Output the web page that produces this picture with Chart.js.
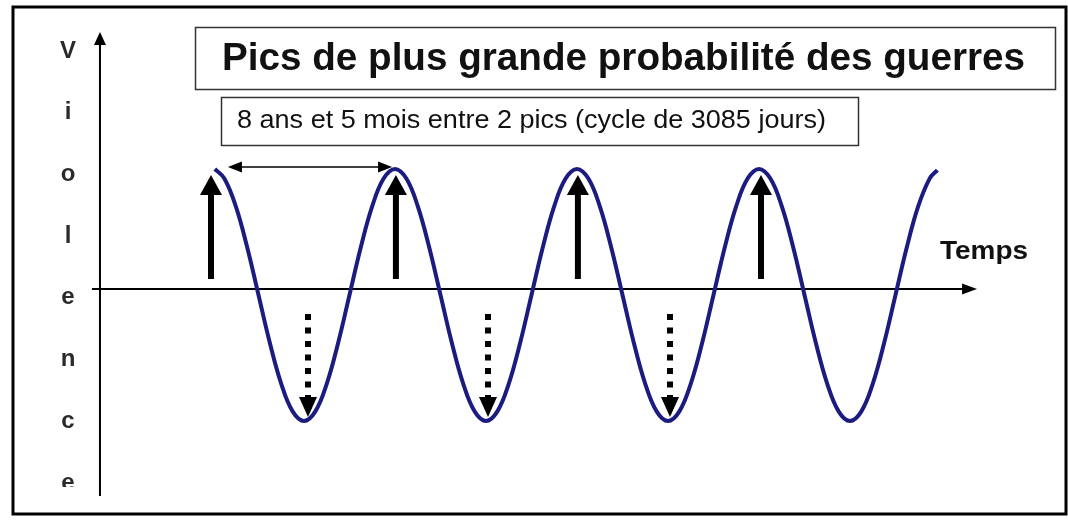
<!DOCTYPE html>
<html>
<head>
<meta charset="utf-8">
<title>Pics de plus grande probabilité des guerres</title>
<script src="https://cdn.jsdelivr.net/npm/chart.js@4.4.1/dist/chart.umd.min.js"></script>
<style>
  body { margin: 0; background: #fff; }
  #wrap { width: 1068px; height: 520px; }
</style>
</head>
<body>
<div id="wrap"><canvas id="chart" width="1068" height="520"></canvas></div>
<script>
// time in cycles (1 cycle = 3085 days), 0 = first peak
// violence: 0 = time axis, 1 = peak height
const waveTime = [0.01, 0.0625, 0.125, 0.1875, 0.25, 0.3125, 0.375, 0.4375,
                  0.5, 0.5625, 0.625, 0.6875, 0.75, 0.8125, 0.875, 0.9375,
                  1, 1.0625, 1.125, 1.1875, 1.25, 1.3125, 1.375, 1.4375,
                  1.5, 1.5625, 1.625, 1.6875, 1.75, 1.8125, 1.875, 1.9375,
                  2, 2.0625, 2.125, 2.1875, 2.25, 2.3125, 2.375, 2.4375,
                  2.5, 2.5625, 2.625, 2.6875, 2.75, 2.8125, 2.875, 2.9375,
                  3, 3.0625, 3.125, 3.1875, 3.25, 3.3125, 3.375, 3.4375,
                  3.5, 3.5625, 3.625, 3.6875, 3.75, 3.8125, 3.875, 3.9375, 3.98];
const waveViolence = [1, 0.92, 0.69, 0.35, -0.05, -0.45, -0.79, -1.02,
                      -1.1, -1.02, -0.79, -0.45, -0.05, 0.35, 0.69, 0.92,
                      1, 0.92, 0.69, 0.35, -0.05, -0.45, -0.79, -1.02,
                      -1.1, -1.02, -0.79, -0.45, -0.05, 0.35, 0.69, 0.92,
                      1, 0.92, 0.69, 0.35, -0.05, -0.45, -0.79, -1.02,
                      -1.1, -1.02, -0.79, -0.45, -0.05, 0.35, 0.69, 0.92,
                      1, 0.92, 0.69, 0.35, -0.05, -0.45, -0.79, -1.02,
                      -1.1, -1.02, -0.79, -0.45, -0.05, 0.35, 0.69, 0.92, 0.99];

// solid arrows up at the peaks
const peakArrowTime = [-0.011, 1.005, 2.005, 3.011];
const peakArrowFrom = 0.083;
const peakArrowTo = 0.95;
// dotted arrows down at the troughs
const troughArrowTime = [0.522, 1.511, 2.511];
const troughArrowFrom = -0.208;
const troughArrowTo = -1.067;
// double arrow between two peaks
const spanFrom = 0.082, spanTo = 0.984, spanLevel = 1.017;
// axes
const yAxisTime = -0.621, yAxisFrom = -1.725, yAxisTo = 2.142;
const xAxisFrom = -0.665, xAxisTo = 4.198;

const title = "Pics de plus grande probabilité des guerres";
const subtitle = "8 ans et 5 mois entre 2 pics (cycle de 3085 jours)";
const xLabel = "Temps";
const yLetters = ["V", "i", "o", "l", "e", "n", "c", "e"];

function arrow(ctx, x1, y1, x2, y2, w, headLen, headW, dash) {
    const ang = Math.atan2(y2 - y1, x2 - x1);
    const len = Math.hypot(x2 - x1, y2 - y1);
    ctx.save();
    ctx.translate(x1, y1);
    ctx.rotate(ang);
    ctx.strokeStyle = "#000";
    ctx.fillStyle = "#000";
    ctx.lineWidth = w;
    ctx.lineCap = "butt";
    if (dash) ctx.setLineDash(dash);
    ctx.beginPath();
    ctx.moveTo(0, 0);
    ctx.lineTo(len - headLen + 1, 0);
    ctx.stroke();
    ctx.setLineDash([]);
    ctx.beginPath();
    ctx.moveTo(len, 0);
    ctx.lineTo(len - headLen, -headW / 2);
    ctx.lineTo(len - headLen, headW / 2);
    ctx.closePath();
    ctx.fill();
    ctx.restore();
}

// draws text squeezed/stretched to a given width
function fitText(ctx, text, font, left, baseline, width) {
    ctx.save();
    ctx.font = font;
    const w = ctx.measureText(text).width;
    ctx.translate(left, baseline);
    ctx.scale(width / w, 1);
    ctx.textBaseline = "alphabetic";
    ctx.textAlign = "left";
    ctx.fillText(text, 0, 0);
    ctx.restore();
}

const decor = {
    id: "decor",
    beforeDatasetsDraw(chart) {
        const ctx = chart.ctx;
        const sx = chart.scales.x, sy = chart.scales.y;
        const X = v => sx.getPixelForValue(v), Y = v => sy.getPixelForValue(v);

        // axes
        arrow(ctx, X(yAxisTime), Y(yAxisFrom), X(yAxisTime), Y(yAxisTo), 2, 13, 12);
        arrow(ctx, X(xAxisFrom), Y(0), X(xAxisTo), Y(0), 2, 15, 11);
    },
    afterDatasetsDraw(chart) {
        const ctx = chart.ctx;
        const sx = chart.scales.x, sy = chart.scales.y;
        const X = v => sx.getPixelForValue(v), Y = v => sy.getPixelForValue(v);

        peakArrowTime.forEach(t => {
            arrow(ctx, X(t), Y(peakArrowFrom), X(t), Y(peakArrowTo), 6, 20, 22);
        });
        troughArrowTime.forEach(t => {
            arrow(ctx, X(t), Y(troughArrowFrom), X(t), Y(troughArrowTo), 6, 20, 18, [6, 7.5]);
        });
        // double arrow
        const mid = (spanFrom + spanTo) / 2;
        arrow(ctx, X(mid), Y(spanLevel), X(spanTo), Y(spanLevel), 1.5, 14, 11);
        arrow(ctx, X(mid), Y(spanLevel), X(spanFrom), Y(spanLevel), 1.5, 14, 11);

        // title boxes
        ctx.save();
        ctx.strokeStyle = "#333";
        ctx.lineWidth = 1.5;
        ctx.strokeRect(195.5, 27.5, 860, 62);
        ctx.strokeRect(221.5, 97.5, 637, 48);
        ctx.fillStyle = "#111";
        fitText(ctx, title, "bold 38px 'Liberation Sans', Arial, sans-serif", 222, 70, 803);
        fitText(ctx, subtitle, "26px 'Liberation Sans Narrow', 'Liberation Sans', Arial, sans-serif", 237, 128, 589);
        fitText(ctx, xLabel, "bold 26px 'Liberation Sans', Arial, sans-serif", 940, 259, 88);

        // vertical axis letters
        ctx.beginPath();
        ctx.rect(0, 0, 200, 487);
        ctx.clip();
        ctx.fillStyle = "#2a2a2a";
        ctx.font = "bold 24px 'Liberation Sans', Arial, sans-serif";
        ctx.textAlign = "center";
        ctx.textBaseline = "middle";
        yLetters.forEach((c, i) => ctx.fillText(c, 68, 51 + i * 61.7));
        ctx.restore();

        // outer frame
        ctx.save();
        ctx.strokeStyle = "#000";
        ctx.lineWidth = 3;
        ctx.strokeRect(13, 7, 1053, 507);
        ctx.restore();
    }
};

const ctx = document.getElementById("chart").getContext("2d");
new Chart(ctx, {
    type: "line",
    data: {
        datasets: [{
            label: "Violence",
            data: waveTime.map((t, i) => ({ x: t, y: waveViolence[i] })),
            borderColor: "#1b1b80",
            borderWidth: 4,
            pointRadius: 0,
            tension: 0.4,
            fill: false
        }]
    },
    options: {
        responsive: false,
        animation: false,
        layout: { padding: 0 },
        scales: {
            x: { type: "linear", display: false, min: -1.1703, max: 4.6978 },
            y: { type: "linear", display: false, min: -1.925, max: 2.408 }
        },
        plugins: {
            legend: { display: false },
            tooltip: { enabled: false }
        }
    },
    plugins: [decor]
});
</script>
</body>
</html>
